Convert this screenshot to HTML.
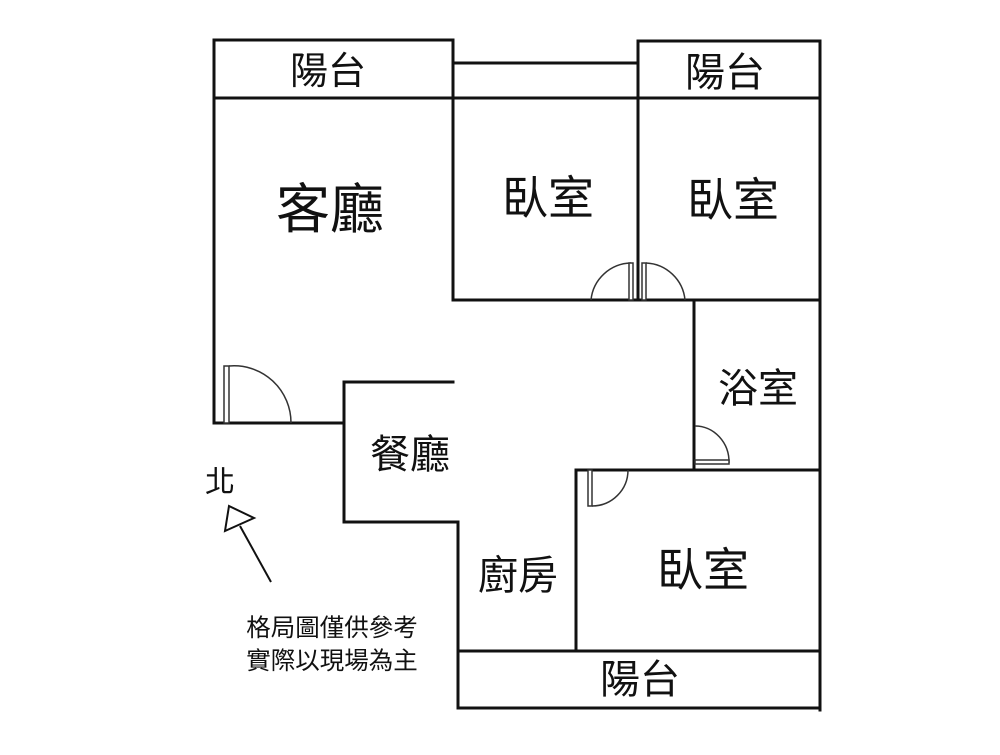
<!DOCTYPE html>
<html><head><meta charset="utf-8"><style>
body{margin:0;background:#fff;}
svg text{font-family:"Liberation Sans","Noto Sans CJK TC",sans-serif;fill:#111;text-anchor:middle;}
</style></head><body>
<svg width="1000" height="750" viewBox="0 0 1000 750" xmlns="http://www.w3.org/2000/svg">
<g stroke="#111" stroke-width="3" fill="none" stroke-linecap="square">
<path d="M214,40 H453 V98"/>
<path d="M453,63 H638"/>
<path d="M638,41 H820 V710"/>
<path d="M638,41 V300"/>
<path d="M214,98 H820"/>
<path d="M214,40 V423 H344"/>
<path d="M453,98 V300 H820"/>
<path d="M694,300 V470"/>
<path d="M576,470 H820"/>
<path d="M576,470 V651"/>
<path d="M344,382 H453"/>
<path d="M344,382 V522 H458 V708 H820"/>
<path d="M458,651 H820"/>
</g>
<g stroke="#333" stroke-width="1.5" fill="none">
<path d="M229,366 A57,57 0 0 1 291,423"/>
<rect x="224" y="366" width="5" height="57" fill="#fff"/>
<path d="M591,300 A41,41 0 0 1 631,263"/>
<rect x="629" y="263" width="4" height="37" fill="#fff"/>
<path d="M646,263 A41,41 0 0 1 685,300"/>
<rect x="642" y="263" width="4" height="37" fill="#fff"/>
<path d="M695,426 A34,36 0 0 1 729,463"/>
<rect x="695" y="460" width="34" height="4" fill="#fff"/>
<path d="M628,470 A36,36 0 0 1 592,506"/>
<rect x="588" y="470" width="4" height="36" fill="#fff"/>
</g>
<g stroke="#111" stroke-width="2" fill="none">
<path d="M271,582 L240,526"/>
<path d="M229,506 L254,518 L225,531 Z"/>
</g>
<text x="328" y="84" font-size="38">陽台</text>
<text x="725" y="86" font-size="40">陽台</text>
<text x="330" y="228" font-size="54">客廳</text>
<text x="548" y="214" font-size="46">臥室</text>
<text x="733" y="216" font-size="46">臥室</text>
<text x="758" y="402" font-size="40">浴室</text>
<text x="410" y="468" font-size="40">餐廳</text>
<text x="518" y="589" font-size="40">廚房</text>
<text x="703" y="586" font-size="46">臥室</text>
<text x="640" y="693" font-size="40">陽台</text>
<text x="220" y="492" font-size="30">北</text>
<text x="332" y="636" font-size="24.5">格局圖僅供參考</text>
<text x="332" y="669" font-size="24.5">實際以現場為主</text>
</svg>
</body></html>
